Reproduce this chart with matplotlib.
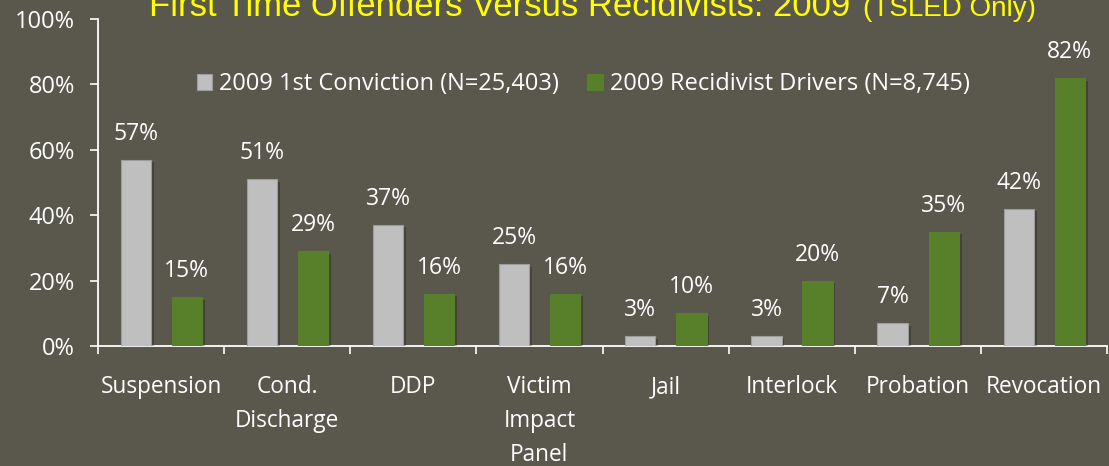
import matplotlib.pyplot as plt
import matplotlib.patheffects as pe
import numpy as np

categories = ['Suspension', 'Cond.\nDischarge', 'DDP', 'Victim\nImpact\nPanel',
              'Jail', 'Interlock', 'Probation', 'Revocation']
first_conviction = [57, 51, 37, 25, 3, 3, 7, 42]
recidivist = [15, 29, 16, 16, 10, 20, 35, 82]
series_labels = ['2009 1st Conviction (N=25,403)', '2009 Recidivist Drivers (N=8,745)']

bg = '#5a584c'
gray = '#bfbfbf'
green = '#58802a'

plt.rcParams['font.family'] = ['Open Sans', 'DejaVu Sans']

fig = plt.figure(figsize=(11.09, 4.66), dpi=100, facecolor=bg)
ax = fig.add_axes([98 / 1109, 120 / 466, 1009 / 1109, 327 / 466])
ax.set_facecolor(bg)

# soft drop shadow like the office chart
shadow = [pe.SimplePatchShadow(offset=(2, -2), shadow_rgbFace='black', alpha=0.25),
          pe.Normal()]

x = np.arange(len(categories))
w = 0.24
b1 = ax.bar(x - 0.2, first_conviction, w, color=gray, edgecolor='#9c9c9c',
            linewidth=0.8, label=series_labels[0], zorder=3, path_effects=shadow)
b2 = ax.bar(x + 0.205, recidivist, w, color=green, edgecolor=green,
            linewidth=0.8, label=series_labels[1], zorder=3, path_effects=shadow)

for bars, vals in ((b1, first_conviction), (b2, recidivist)):
    for rect, v in zip(bars, vals):
        ax.annotate(f'{v}%', (rect.get_x() + rect.get_width() / 2, v),
                    xytext=(0, 10), textcoords='offset points',
                    ha='center', va='bottom', color='white', fontsize=16.5)

ax.set_xlim(-0.5, len(categories) - 0.5)
ax.set_ylim(0, 100)
ax.set_yticks(range(0, 101, 20))
ax.set_yticklabels([f'{t}%' for t in range(0, 101, 20)], color='white', fontsize=17)
ax.set_xticks(x)
ax.set_xticklabels(categories, color='white', fontsize=16.3, linespacing=1.55, va='top')
ax.set_xticks(np.arange(-0.5, len(categories)), minor=True)
ax.tick_params(axis='x', which='major', length=0, pad=21)
ax.tick_params(axis='x', which='minor', length=6, width=1.2, color='white')
ax.tick_params(axis='y', length=5.5, width=1.2, color='white', pad=11)

for s in ('top', 'right'):
    ax.spines[s].set_visible(False)
for s in ('left', 'bottom'):
    ax.spines[s].set_color('white')
    ax.spines[s].set_linewidth(1.3)

leg = ax.legend(loc='center', bbox_to_anchor=(0.481, 0.8), ncol=2, frameon=False,
                fontsize=17, handlelength=0.65, handleheight=0.65, handletextpad=0.3,
                columnspacing=1.2)
for t in leg.get_texts():
    t.set_color('white')
for h in leg.legend_handles:
    h.set_path_effects([])

fig.text(850 / 1109, 1 - 16 / 466, 'First Time Offenders Versus Recidivists: 2009',
         ha='right', va='baseline', color='#ffff00', fontsize=24.9,
         family='Liberation Sans')
fig.text(863 / 1109, 1 - 16 / 466, '(TSLED Only)',
         ha='left', va='baseline', color='#ffff00', fontsize=20,
         family='Liberation Sans')

fig.savefig('out.png', dpi=100, facecolor=bg)
